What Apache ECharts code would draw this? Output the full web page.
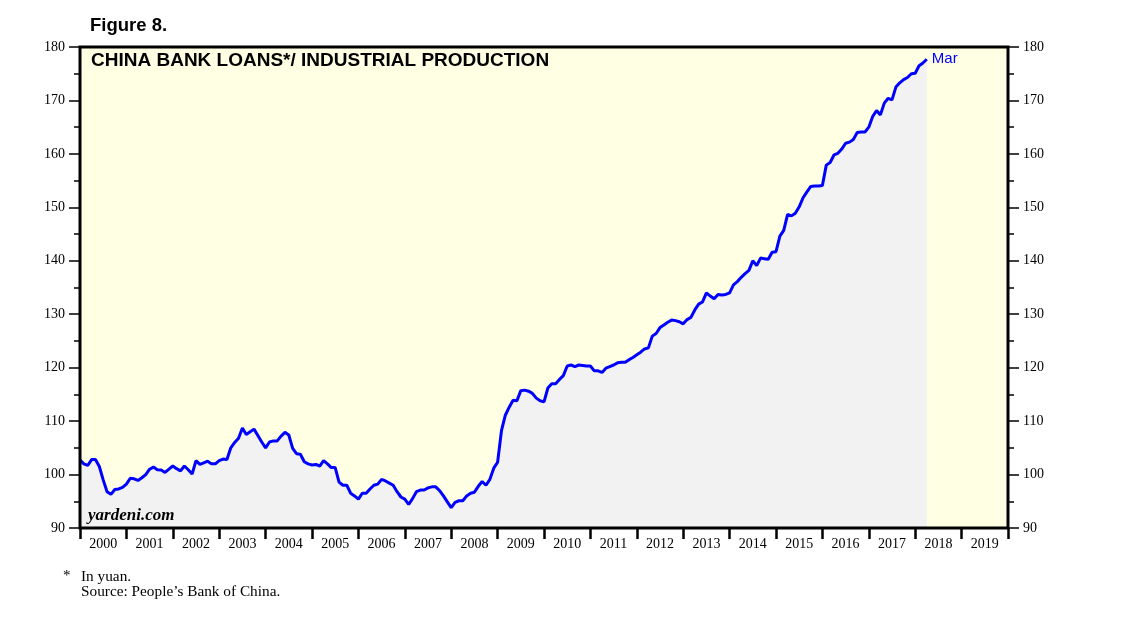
<!DOCTYPE html>
<html>
<head>
<meta charset="utf-8">
<script src="https://cdn.jsdelivr.net/npm/echarts@6/dist/echarts.min.js"></script>
<style>
html,body{margin:0;padding:0;background:#fff;}
#chart{width:1138px;height:629px;}
</style>
</head>
<body>
<div id="chart"></div>
<script>
// Monthly ratio, end-of-month, starting Dec 1999 through Mar 2018
const firstYear = 1999, firstMonth = 12;
const ratio = [
  102.7,
  // 2000
  102.0,101.7,102.8,102.8,101.5,99.0,96.8,96.3,97.2,97.3,97.6,98.2,
  // 2001
  99.3,99.2,98.9,99.4,100.0,101.0,101.4,100.9,100.85,100.4,101.0,101.6,
  // 2002
  101.1,100.7,101.6,100.9,100.1,102.6,101.9,102.2,102.5,102.0,102.0,102.6,
  // 2003
  102.9,102.8,105.0,106.0,106.8,108.7,107.5,108.0,108.5,107.3,106.1,105.0,
  // 2004
  106.1,106.3,106.3,107.2,107.9,107.4,104.9,103.9,103.8,102.4,102.0,101.8,
  // 2005
  101.9,101.6,102.6,102.0,101.3,101.3,98.6,98.0,98.0,96.5,96.0,95.4,
  // 2006
  96.5,96.5,97.3,98.0,98.2,99.1,98.8,98.4,98.0,96.8,95.8,95.4,
  // 2007
  94.4,95.5,96.8,97.1,97.1,97.5,97.7,97.7,97.0,96.0,94.9,93.8,
  // 2008
  94.8,95.1,95.1,96.0,96.5,96.7,97.8,98.7,98.0,99.1,101.2,102.3,
  // 2009
  108.2,111.1,112.6,113.9,113.8,115.7,115.8,115.6,115.2,114.3,113.8,113.6,
  // 2010
  116.2,117.0,117.0,117.8,118.5,120.3,120.5,120.2,120.5,120.4,120.3,120.3,
  // 2011
  119.4,119.4,119.1,119.9,120.2,120.5,120.9,121.0,121.0,121.5,121.9,122.4,
  // 2012
  122.9,123.5,123.7,125.9,126.4,127.5,128.0,128.5,128.9,128.8,128.6,128.2,
  // 2013
  129.0,129.4,130.8,131.9,132.3,134.0,133.4,132.9,133.7,133.6,133.7,134.0,
  // 2014
  135.5,136.1,136.9,137.6,138.2,140.0,139.1,140.5,140.4,140.3,141.6,141.7,
  // 2015
  144.6,145.7,148.7,148.4,148.9,150.1,151.8,152.9,153.9,154.0,154.0,154.1,
  // 2016
  157.9,158.4,159.8,160.1,160.9,162.0,162.2,162.7,164.0,164.1,164.1,165.0,
  // 2017
  167.0,168.1,167.3,169.5,170.4,170.1,172.5,173.3,173.9,174.3,175.0,175.1,
  // 2018
  176.5,177.0,177.7
];
const yearLabels = ['2000','2001','2002','2003','2004','2005','2006','2007','2008','2009',
                    '2010','2011','2012','2013','2014','2015','2016','2017','2018','2019'];
const yTicks = {min: 90, max: 180, step: 10};
const lastLabel = 'Mar';

// end-of-month decimal year positions
const points = ratio.map((v, i) => {
  const m = firstMonth + i;
  const t = firstYear + m / 12;
  return [t, v];
});

const serif = 'Liberation Serif';
const sans = 'Liberation Sans';
const G = {left: 80, right: 130, top: 47, bottom: 101};
const W = 1138, H = 629;

const yAxisCommon = {
  type: 'value', min: yTicks.min, max: yTicks.max, interval: yTicks.step,
  axisLine: {show: false},
  axisTick: {show: true, length: 11, lineStyle: {color: '#000', width: 1.5}},
  minorTick: {show: true, splitNumber: 2, length: 6, lineStyle: {color: '#000', width: 1.5}},
  splitLine: {show: false},
  axisLabel: {fontFamily: serif, fontSize: 14, color: '#000', margin: 15}
};

const chart = echarts.init(document.getElementById('chart'));
chart.setOption({
  animation: false,
  backgroundColor: '#fff',
  grid: {left: G.left, right: G.right, top: G.top, bottom: G.bottom, show: true,
         backgroundColor: '#FFFFE4', borderWidth: 0},
  xAxis: [
    {type: 'value', min: 2000, max: 2020, show: false},
    {type: 'category', data: yearLabels, boundaryGap: true, position: 'bottom',
     axisLine: {show: false},
     axisTick: {show: true, length: 11, lineStyle: {color: '#000', width: 2.5}},
     axisLabel: {fontFamily: serif, fontSize: 14, color: '#000', margin: 9},
     splitLine: {show: false}}
  ],
  yAxis: [
    Object.assign({}, yAxisCommon, {position: 'left'}),
    Object.assign({}, yAxisCommon, {position: 'right'})
  ],
  series: [{
    type: 'line', xAxisIndex: 0, yAxisIndex: 0,
    data: points, showSymbol: false, symbol: 'none', smooth: false,
    lineStyle: {color: '#0000FF', width: 3},
    areaStyle: {color: '#F2F2F2', opacity: 1, origin: 'start'},
    endLabel: {show: true, formatter: lastLabel, color: '#0000FF',
               fontFamily: sans, fontSize: 15, distance: 5},
    z: 3
  }],
  graphic: [
    {type: 'rect', z: 50, silent: true,
     shape: {x: G.left, y: G.top, width: W - G.left - G.right, height: H - G.top - G.bottom},
     style: {fill: 'none', stroke: '#000', lineWidth: 3}},
    {type: 'text', left: 90, top: 16, z: 60,
     style: {text: 'Figure 8.', font: 'bold 18.5px "Liberation Sans"', fill: '#000'}},
    {type: 'text', left: 91, top: 51, z: 60,
     style: {text: 'CHINA BANK LOANS*/ INDUSTRIAL PRODUCTION', font: 'bold 19px "Liberation Sans"', fill: '#000'}},
    {type: 'text', left: 88, top: 507, z: 60,
     style: {text: 'yardeni.com', font: 'italic bold 17px "Liberation Serif"', fill: '#000'}},
    {type: 'text', left: 63, top: 569, z: 60,
     style: {text: '*', font: '15px "Liberation Serif"', fill: '#000'}},
    {type: 'text', left: 81, top: 569, z: 60,
     style: {text: 'In yuan.', font: '15.3px "Liberation Serif"', fill: '#000'}},
    {type: 'text', left: 81, top: 584, z: 60,
     style: {text: 'Source: People\u2019s Bank of China.', font: '15.3px "Liberation Serif"', fill: '#000'}}
  ]
});
</script>
</body>
</html>
